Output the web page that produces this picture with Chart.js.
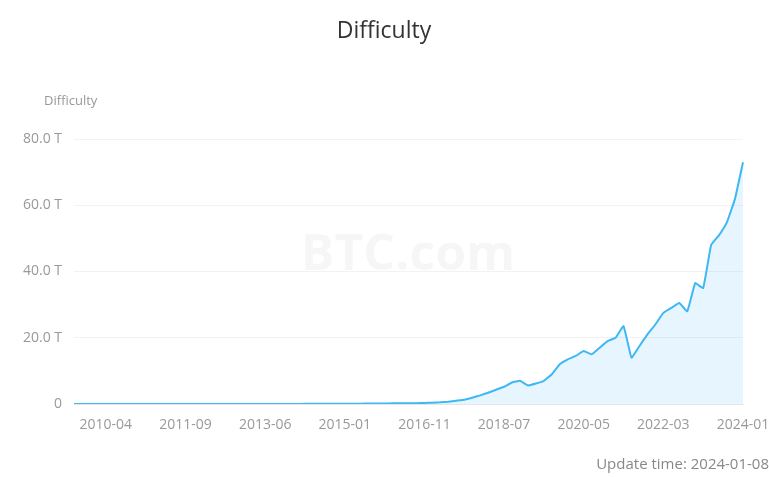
<!DOCTYPE html><html><head><meta charset="utf-8">
<script src="https://cdn.jsdelivr.net/npm/chart.js@4"></script>
<style>html,body{margin:0;padding:0;background:#fff}#w{position:relative;width:769px;height:477px}</style>
</head><body><div id="w"><canvas id="c" width="769" height="477"></canvas></div>
<script>
const tickIndex=[4,14,24,34,44,54,64,74,84];
const tickLabels=["2010-04","2011-09","2013-06","2015-01","2016-11","2018-07","2020-05","2022-03","2024-01"];
const difficulty=[0,0,0,0,0,0,0,0,0,0, 0,0,0,0,0,0,0,0,0,0, 0.01,0.01,0.01,0.01,0.02,0.02,0.02,0.03,0.03,0.04,
0.05,0.06,0.07,0.08,0.09,0.1,0.11,0.13,0.15,0.17, 0.19,0.21,0.23,0.26,0.3,0.4,0.5,0.7,1.0,1.3,
1.9,2.6,3.4,4.3,5.2,6.5,7.0,5.6,6.2,7.0, 9.0,12.0,13.5,14.5,16.0,15.0,17.0,19.0,20.0,23.5,
14.0,17.5,21.0,24.0,27.5,29.0,30.5,28.0,36.5,35.0, 48.0,51.0,55.0,62.0,73.0];
const labels=difficulty.map((v,i)=>{const k=tickIndex.indexOf(i);return k>=0?tickLabels[k]:'';});
const F='"Open Sans", "Noto Sans", sans-serif';
const textPlugin={id:'txt',afterDraw(ch){const c=ch.ctx;c.save();
c.fillStyle='#333';c.font='23px '+F;c.textAlign='center';c.textBaseline='middle';c.fillText('Difficulty',384,31);
c.fillStyle='#999';c.font='13px '+F;c.textAlign='left';c.fillText('Difficulty',44,101);
c.fillStyle='#888';c.font='15px '+F;c.textAlign='right';c.fillText('Update time: 2024-01-08',769,465);
c.restore();},
beforeDatasetsDraw(ch){const c=ch.ctx;c.save();c.fillStyle='rgba(0,0,0,0.035)';c.font='bold 50px '+F;c.textAlign='center';c.textBaseline='middle';c.fillText('BTC.com',408,256);c.restore();}};
new Chart(document.getElementById('c'),{type:'line',
data:{labels,datasets:[{data:difficulty,borderColor:'#3db8f5',borderWidth:2,pointRadius:0,tension:0.1,fill:true,backgroundColor:'rgba(61,184,245,0.12)'}]},
options:{responsive:false,animation:false,layout:{padding:{top:139,right:0,left:0,bottom:0}},
plugins:{legend:{display:false},tooltip:{enabled:false}},
scales:{x:{afterFit(s){s.height=73;s.paddingRight=26;},grid:{display:false,drawOnChartArea:false},border:{color:'#e6e6e6'},
ticks:{autoSkip:false,maxRotation:0,color:'#999',font:{family:F,size:14},padding:5,callback(v,i){return labels[i];}}},
y:{min:0,max:80,afterFit(s){s.width=74;},border:{display:false},grid:{color:'#f2f2f2',drawTicks:false},
ticks:{stepSize:20,color:'#999',font:{family:F,size:14},padding:12,callback(v){return v===0?'0':v.toFixed(1)+' T';}}}}},
plugins:[textPlugin]});
</script></body></html>
